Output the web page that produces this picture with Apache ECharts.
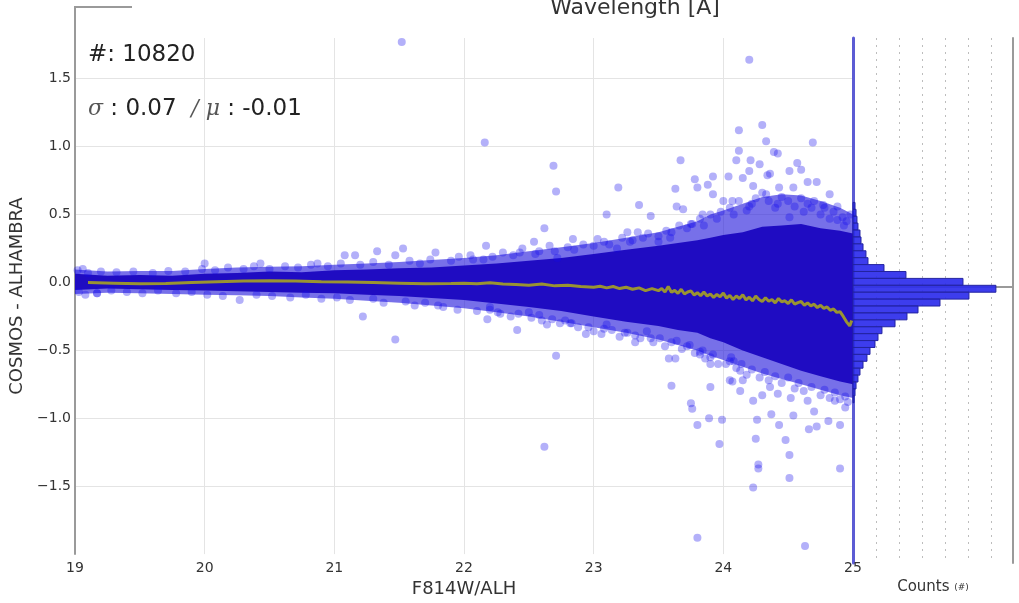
<!DOCTYPE html>
<html>
<head>
<meta charset="utf-8">
<title>COSMOS - ALHAMBRA vs F814W</title>
<script src="https://cdn.jsdelivr.net/npm/echarts@6/dist/echarts.min.js"></script>
<style>
  html, body { margin: 0; padding: 0; background: #ffffff; }
  #chart { width: 1019px; height: 603px; }
</style>
</head>
<body>
<div id="chart"></div>
<script>
// ---- magnitude axis ----
const magTicks = [19, 20, 21, 22, 23, 24, 25];
const diffTicks = [-1.5, -1.0, -0.5, 0.0, 0.5, 1.0, 1.5];

// ---- dense body of the distribution (upper / lower envelopes per magnitude) ----
const bandMag  = [19.0, 19.25, 19.5, 19.75, 20.0, 20.25, 20.5, 20.75, 21.0, 21.25, 21.5, 21.75, 22.0, 22.25, 22.5,
                  22.75, 23.0, 23.25, 23.5, 23.65, 23.8, 23.9, 24.0, 24.15, 24.3, 24.45, 24.6, 24.75, 24.9, 25.0];
const coreHigh = [0.065, 0.05, 0.055, 0.05, 0.065, 0.07, 0.08, 0.075, 0.09, 0.095, 0.105, 0.11, 0.125, 0.14, 0.16,
                  0.18, 0.21, 0.24, 0.27, 0.29, 0.31, 0.33, 0.35, 0.37, 0.41, 0.42, 0.43, 0.40, 0.38, 0.36];
const coreLow  = [-0.055, -0.045, -0.05, -0.055, -0.06, -0.065, -0.07, -0.075, -0.08, -0.09, -0.10, -0.115, -0.13, -0.155, -0.18,
                  -0.21, -0.25, -0.29, -0.32, -0.35, -0.37, -0.41, -0.44, -0.50, -0.55, -0.60, -0.65, -0.69, -0.73, -0.75];
const haloHigh = [0.095, 0.08, 0.085, 0.085, 0.10, 0.11, 0.115, 0.12, 0.13, 0.14, 0.15, 0.165, 0.18, 0.20, 0.23,
                  0.26, 0.29, 0.33, 0.37, 0.41, 0.45, 0.50, 0.53, 0.58, 0.63, 0.65, 0.64, 0.60, 0.55, 0.50];
const haloLow  = [-0.085, -0.075, -0.08, -0.085, -0.09, -0.095, -0.10, -0.11, -0.12, -0.135, -0.15, -0.17, -0.19, -0.22, -0.25,
                  -0.29, -0.33, -0.37, -0.42, -0.46, -0.50, -0.54, -0.57, -0.62, -0.67, -0.71, -0.75, -0.79, -0.83, -0.85];

// ---- individual sources along the edges of the body ----
const edgePoints = [
  [19.02, 0.09], [19.06, 0.10], [19.10, 0.07], [19.20, 0.08], [19.32, 0.075], [19.45, 0.08], [19.60, 0.07],
  [19.72, 0.085], [19.85, 0.08], [19.98, 0.10], [20.08, 0.09], [20.18, 0.11], [20.30, 0.10], [20.38, 0.12],
  [20.50, 0.10], [20.62, 0.12], [20.72, 0.11], [20.82, 0.13], [20.95, 0.12], [21.05, 0.14], [21.20, 0.13],
  [21.30, 0.15], [21.42, 0.13], [21.58, 0.16], [21.66, 0.14], [21.74, 0.17], [21.90, 0.16], [21.96, 0.19],
  [19.03, -0.07], [19.08, -0.09], [19.17, -0.08], [19.28, -0.06], [19.40, -0.07], [19.52, -0.08], [19.64, -0.06],
  [19.78, -0.08], [19.90, -0.07], [20.02, -0.09], [20.14, -0.10], [20.40, -0.09], [20.52, -0.10], [20.66, -0.11],
  [20.78, -0.09], [20.90, -0.12], [21.02, -0.11], [21.12, -0.13], [21.30, -0.12], [21.38, -0.15], [21.55, -0.14],
  [21.62, -0.17], [21.70, -0.15], [21.84, -0.18], [21.95, -0.20],
  [22.05, 0.20], [22.22, 0.19], [22.30, 0.22], [22.45, 0.25], [22.58, 0.23], [22.66, 0.27], [22.80, 0.26],
  [22.92, 0.28], [23.08, 0.30], [23.22, 0.33], [23.30, 0.31], [23.42, 0.36], [23.56, 0.38], [23.66, 0.42],
  [23.72, 0.40], [23.82, 0.47], [23.90, 0.50], [23.98, 0.52],
  [22.10, -0.21], [22.28, -0.23], [22.36, -0.25], [22.52, -0.26], [22.60, -0.28], [22.74, -0.30], [22.88, -0.33],
  [23.00, -0.36], [23.14, -0.35], [23.20, -0.40], [23.36, -0.41], [23.46, -0.44], [23.55, -0.47], [23.68, -0.49],
  [23.78, -0.52], [23.86, -0.56], [23.96, -0.60],
  [24.05, 0.55], [24.12, 0.60], [24.25, 0.62], [24.30, 0.66], [24.45, 0.63], [24.50, 0.60], [24.60, 0.62],
  [24.70, 0.60], [24.78, 0.55], [24.85, 0.52], [24.95, 0.45], [24.98, 0.50],
  [24.02, -0.60], [24.10, -0.63], [24.18, -0.68], [24.28, -0.70], [24.35, -0.72], [24.45, -0.74], [24.55, -0.78],
  [24.62, -0.80], [24.75, -0.83], [24.82, -0.85], [24.90, -0.86], [24.96, -0.88],
  [22.15, 0.17], [22.38, 0.20], [22.55, 0.21], [22.70, 0.23], [22.85, 0.24], [23.00, 0.27], [23.12, 0.28],
  [23.28, 0.30], [23.38, 0.33], [23.50, 0.34], [23.60, 0.37], [23.75, 0.43], [23.85, 0.42], [23.95, 0.47],
  [24.08, 0.50], [24.18, 0.53], [24.22, 0.58], [24.35, 0.60], [24.40, 0.55], [24.55, 0.56], [24.62, 0.52],
  [24.68, 0.55], [24.75, 0.50], [24.82, 0.47], [24.88, 0.46], [24.93, 0.42],
  [22.20, -0.20], [22.42, -0.23], [22.58, -0.24], [22.68, -0.27], [22.82, -0.30], [22.96, -0.33], [23.08, -0.34],
  [23.24, -0.37], [23.32, -0.39], [23.44, -0.41], [23.60, -0.44], [23.72, -0.47], [23.84, -0.50], [23.92, -0.53],
  [24.08, -0.58], [24.14, -0.60], [24.22, -0.64], [24.32, -0.66], [24.40, -0.69], [24.50, -0.70], [24.58, -0.74],
  [24.68, -0.77], [24.78, -0.79], [24.86, -0.81], [24.94, -0.84]
];

// ---- scattered outliers ----
const outlierPoints = [
  [21.52, 1.77], [24.20, 1.64], [22.16, 1.03], [22.69, 0.86], [22.71, 0.67], [23.19, 0.70], [23.67, 0.90],
  [23.63, 0.69], [23.35, 0.57], [23.10, 0.50], [23.44, 0.49], [22.62, 0.40], [22.54, 0.30], [22.84, 0.32],
  [22.17, 0.27], [23.03, 0.32], [23.26, 0.37], [23.34, 0.37], [23.64, 0.56], [23.69, 0.54], [22.43, 0.22],
  [22.72, 0.18], [23.18, 0.25], [23.50, 0.30], [23.59, 0.33], [22.07, 0.17],
  [24.12, 1.12], [24.30, 1.16], [24.33, 1.04], [24.69, 1.03], [24.39, 0.96], [24.12, 0.97], [24.10, 0.90],
  [24.21, 0.90], [23.78, 0.76], [23.80, 0.70], [23.92, 0.78], [24.04, 0.78], [24.15, 0.77], [24.20, 0.82],
  [24.34, 0.79], [24.51, 0.82], [24.57, 0.88], [24.60, 0.83], [24.23, 0.71], [24.36, 0.80], [24.43, 0.70],
  [24.54, 0.70], [24.65, 0.74], [24.72, 0.74], [24.82, 0.65], [24.07, 0.60], [24.20, 0.56], [24.33, 0.65],
  [23.92, 0.65], [24.00, 0.60], [24.42, 0.58], [24.65, 0.58], [24.77, 0.57], [24.88, 0.56], [24.92, 0.48],
  [23.84, 0.50], [23.76, 0.43], [24.51, 0.48], [24.42, 0.95], [24.28, 0.87], [23.88, 0.72],
  [23.76, -0.93], [23.80, -1.05], [23.89, -1.00], [23.99, -1.01], [23.97, -1.19], [23.90, -0.77], [23.82, -0.51],
  [23.90, -0.60], [24.05, -0.58], [24.07, -0.73], [24.13, -0.80], [24.15, -0.72], [24.23, -0.87], [24.26, -1.01],
  [24.25, -1.15], [24.27, -1.34], [24.27, -1.37], [24.23, -1.51], [24.30, -0.83], [24.36, -0.77], [24.37, -0.97],
  [24.42, -0.82], [24.43, -1.05], [24.48, -1.16], [24.51, -1.27], [24.51, -1.44], [24.52, -0.85], [24.54, -0.98],
  [24.65, -0.87], [24.70, -0.95], [24.72, -1.06], [24.66, -1.08], [24.81, -1.02], [24.86, -0.87], [24.90, -1.05],
  [24.90, -1.37], [24.94, -0.92], [23.80, -1.88], [24.63, -1.94], [23.75, -0.89], [23.60, -0.76], [22.62, -1.21],
  [22.71, -0.54], [23.58, -0.56], [23.63, -0.56],
  [22.18, -0.27], [22.41, -0.35], [22.64, -0.31], [22.83, -0.30], [22.94, -0.38], [23.06, -0.38], [23.26, -0.37],
  [23.32, -0.44], [22.20, -0.18], [22.26, -0.22], [22.50, -0.22], [22.78, -0.28], [23.10, -0.31], [23.41, -0.36],
  [23.51, -0.41], [23.64, -0.43], [23.74, -0.46], [23.82, -0.53], [23.90, -0.55], [24.06, -0.55], [24.13, -0.65],
  [24.05, -0.72], [21.80, -0.17], [21.22, -0.25], [21.47, -0.42], [20.27, -0.13], [19.17, -0.08],
  [21.08, 0.20], [21.16, 0.20], [21.33, 0.23], [21.47, 0.20], [21.53, 0.25], [21.78, 0.22], [20.43, 0.14],
  [20.87, 0.14], [20.00, 0.14]
];

// ---- running median ----
const medianMag = [
  19.1, 19.3, 19.5, 19.7, 19.9, 20.1, 20.3, 20.5, 20.7, 20.9, 21.1, 21.3, 21.5, 21.7, 21.9,
  22.0, 22.1, 22.2, 22.3, 22.4, 22.5, 22.6, 22.7, 22.8, 22.9, 23.0, 23.05, 23.1, 23.15, 23.2,
  23.25, 23.3, 23.35, 23.4, 23.45,
  23.500, 23.525, 23.550, 23.575, 23.600, 23.625, 23.650, 23.675, 23.700, 23.725, 23.750, 23.775,
  23.800, 23.825, 23.850, 23.875, 23.900, 23.925, 23.950, 23.975, 24.000, 24.025, 24.050, 24.075,
  24.100, 24.125, 24.150, 24.175, 24.200, 24.225, 24.250, 24.275, 24.300, 24.325, 24.350, 24.375,
  24.400, 24.425, 24.450, 24.475, 24.500, 24.525, 24.550, 24.575, 24.600, 24.625, 24.650, 24.675,
  24.700, 24.725, 24.750, 24.775, 24.800, 24.825, 24.850, 24.875, 24.900, 24.925, 24.950, 24.975, 24.990
];
const medianVal = [
  0.0, -0.005, -0.01, -0.008, 0.0, 0.005, 0.01, 0.012, 0.01, 0.006, 0.004, 0.0, -0.005, -0.01, -0.008,
  -0.005, -0.01, -0.002, -0.012, -0.015, -0.02, -0.012, -0.025, -0.02, -0.03, -0.035, -0.028, -0.04, -0.03, -0.045,
  -0.035, -0.05, -0.04, -0.06, -0.045,
  -0.060, -0.045, -0.070, -0.030, -0.072, -0.058, -0.080, -0.050, -0.085, -0.070, -0.062, -0.092,
  -0.075, -0.098, -0.070, -0.100, -0.085, -0.110, -0.088, -0.105, -0.078, -0.115, -0.095, -0.125,
  -0.100, -0.118, -0.090, -0.128, -0.108, -0.135, -0.100, -0.125, -0.140, -0.112, -0.138, -0.125,
  -0.150, -0.118, -0.142, -0.135, -0.155, -0.128, -0.160, -0.148, -0.140, -0.168, -0.150, -0.172,
  -0.160, -0.185, -0.168, -0.190, -0.180, -0.205, -0.195, -0.220, -0.215, -0.250, -0.290, -0.320, -0.280
];

// ---- marginal histogram (bin centres, counts) ----
const histBinWidth = 0.05;
const histCenters = [
  0.585, 0.535, 0.485, 0.435, 0.385, 0.335, 0.285, 0.235, 0.185, 0.135, 0.085, 0.035, -0.015,
  -0.065, -0.115, -0.165, -0.215, -0.265, -0.315, -0.365, -0.415, -0.465, -0.515, -0.565, -0.615,
  -0.665, -0.715, -0.765, -0.815
];
const histCounts = [
  22, 33, 43, 54, 76, 87, 109, 141, 163, 337, 576, 1196, 1554,
  1261, 946, 707, 587, 457, 315, 272, 239, 185, 152, 109, 76,
  54, 33, 22, 11
];

const chart = echarts.init(document.getElementById('chart'), null, { renderer: 'canvas' });

const fmtDiff = v => {
  if (!diffTicks.some(t => Math.abs(t - v) < 1e-9)) return '';
  return v.toFixed(1).replace('-', '\u2212');
};

function bandRenderer(high, low, fill) {
  return function (params, api) {
    const pts = [];
    for (let i = 0; i < bandMag.length; i++) pts.push(api.coord([bandMag[i], high[i]]));
    for (let i = bandMag.length - 1; i >= 0; i--) pts.push(api.coord([bandMag[i], low[i]]));
    return { type: 'polygon', shape: { points: pts }, style: { fill: fill } };
  };
}

const option = {
  animation: false,
  backgroundColor: '#ffffff',
  textStyle: { fontFamily: 'DejaVu Sans' },
  grid: [
    { left: 75, right: 166, top: 38, bottom: 40 },
    { left: 853, right: 6, top: 38, bottom: 40 }
  ],
  xAxis: [
    {
      gridIndex: 0, type: 'value', min: 19, max: 25, interval: 1,
      axisLine: { lineStyle: { color: '#9a9a9a', width: 2 } },
      axisTick: { show: false },
      axisLabel: { color: '#333', fontSize: 14, margin: 7 },
      splitLine: { lineStyle: { color: '#e4e4e4', width: 1 }, showMinLine: false, showMaxLine: false },
      name: 'F814W/ALH', nameLocation: 'middle', nameGap: 22,
      nameTextStyle: { fontSize: 18, color: '#333' }
    },
    {
      gridIndex: 1, type: 'value', min: 0, max: 1740, interval: 250,
      axisLine: { lineStyle: { color: '#9a9a9a', width: 2 } },
      axisTick: { show: false },
      axisLabel: { show: false },
      splitLine: { lineStyle: { color: '#bdbdbd', type: [2, 5], width: 1 }, showMinLine: false, showMaxLine: false },
      name: 'Counts {s|(#)}', nameLocation: 'middle', nameGap: 17,
      nameTextStyle: { fontSize: 15, color: '#333', rich: { s: { fontSize: 9, color: '#333' } } }
    }
  ],
  yAxis: [
    {
      gridIndex: 0, type: 'value', min: -2, max: 1.8, interval: 0.5,
      axisLine: { lineStyle: { color: '#9a9a9a', width: 2 } },
      axisTick: { show: false },
      axisLabel: { color: '#333', fontSize: 14, margin: 4, formatter: fmtDiff },
      splitLine: { lineStyle: { color: '#e4e4e4', width: 1 }, showMinLine: false, showMaxLine: false },
      name: 'COSMOS - ALHAMBRA', nameLocation: 'middle', nameGap: 48, nameRotate: 90,
      nameTextStyle: { fontSize: 18, color: '#333' }
    },
    {
      gridIndex: 1, type: 'value', min: -2, max: 1.8, interval: 0.5,
      axisLine: { lineStyle: { color: '#5c5cd4', width: 3 } },
      axisTick: { show: false }, axisLabel: { show: false }, splitLine: { show: false }
    },
    {
      gridIndex: 1, type: 'value', position: 'right', min: -2, max: 1.8,
      axisLine: { show: true, lineStyle: { color: '#9a9a9a', width: 2 } },
      axisTick: { show: false }, axisLabel: { show: false }, splitLine: { show: false }
    }
  ],
  series: [
    {
      type: 'custom', xAxisIndex: 0, yAxisIndex: 0, z: 1,
      data: [[bandMag[0], haloHigh[0]]], encode: { x: 0, y: 1 },
      renderItem: bandRenderer(haloHigh, haloLow, 'rgba(35,25,220,0.62)'),
      silent: true
    },
    {
      type: 'custom', xAxisIndex: 0, yAxisIndex: 0, z: 2,
      data: [[bandMag[0], coreHigh[0]]], encode: { x: 0, y: 1 },
      renderItem: bandRenderer(coreHigh, coreLow, '#1f0cc2'),
      silent: true
    },
    {
      type: 'scatter', xAxisIndex: 0, yAxisIndex: 0, z: 3,
      data: edgePoints.concat(outlierPoints),
      symbolSize: 8,
      itemStyle: { color: 'rgba(20,10,235,0.4)' },
      silent: true
    },
    {
      type: 'line', xAxisIndex: 0, yAxisIndex: 0, z: 4,
      data: medianMag.map((m, i) => [m, medianVal[i]]),
      showSymbol: false,
      lineStyle: { color: 'rgba(175,172,25,0.85)', width: 3 },
      silent: true
    },
    {
      type: 'custom', xAxisIndex: 1, yAxisIndex: 1, z: 2,
      data: histCenters.map((c, i) => [histCounts[i], c]),
      encode: { x: 0, y: 1 },
      renderItem: function (params, api) {
        const cnt = api.value(0), c = api.value(1);
        const p0 = api.coord([0, c + histBinWidth / 2]);
        const p1 = api.coord([cnt, c - histBinWidth / 2]);
        return {
          type: 'rect',
          shape: { x: p0[0], y: p0[1], width: p1[0] - p0[0], height: p1[1] - p0[1] },
          style: { fill: 'rgba(45,45,235,0.92)', stroke: '#2323a0', lineWidth: 1 }
        };
      },
      silent: true
    }
  ],
  graphic: [
    {
      type: 'polyline', z: 10,
      shape: { points: [[132, 7], [75, 7], [75, 39]] },
      style: { stroke: '#9a9a9a', lineWidth: 2, fill: null }
    },
    {
      type: 'text', z: 10,
      style: {
        text: 'Wavelength [\u00c5]', x: 635, y: -3, align: 'center',
        font: '22px "DejaVu Sans"', fill: '#333'
      }
    },
    {
      type: 'text', z: 10,
      style: { text: '#: 10820', x: 88, y: 44, font: '23px "DejaVu Sans"', fill: '#222' }
    },
    {
      type: 'text', z: 10,
      style: {
        text: '{g|\u03c3} : 0.07  {g|/ \u03bc} : -0.01', x: 88, y: 98,
        font: '23px "DejaVu Sans"', fill: '#222',
        rich: { g: { font: 'italic 22px "DejaVu Serif"', fill: '#555' } }
      }
    }
  ]
};

chart.setOption(option);
</script>
</body>
</html>
